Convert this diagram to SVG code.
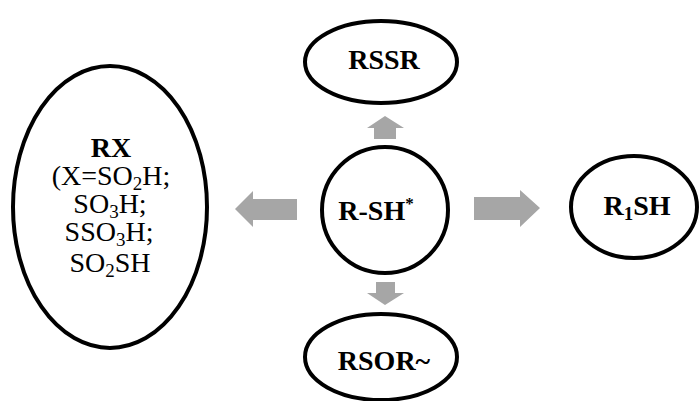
<svg xmlns="http://www.w3.org/2000/svg" width="699" height="401" viewBox="0 0 699 401">
  <style>
    .node { fill: #ffffff; stroke: #000000; stroke-width: 4; }
    .arrow { fill: #a6a6a6; stroke: none; }
    .lbl { font-family: "Liberation Serif", "Times New Roman", serif; fill: #000000; text-anchor: middle; }
    .b { font-weight: bold; font-size: 28px; }
    .r { font-size: 28px; }
    .sub { font-size: 19px; }
  </style>
  <rect width="699" height="401" fill="#ffffff"/>

  <!-- connectors: block arrows radiating from the central thiol -->
  <g id="connectors">
    <polygon class="arrow" points="385,116 404,128 396,128 396,139 374,139 374,128 367,128"/>
    <polygon class="arrow" points="385,305 404,293 395,293 395,282 376,282 376,293 367,293"/>
    <polygon class="arrow" points="235,209 253,191 253,199 297,199 297,220 253,220 253,227"/>
    <polygon class="arrow" points="540,208 520,190 520,197 474,197 474,220 520,220 520,227"/>
  </g>

  <g id="node-rssr">
    <ellipse class="node" cx="381" cy="62" rx="76" ry="41"/>
    <text class="lbl b" x="384" y="69">RSSR</text>
  </g>

  <g id="node-rsh">
    <circle class="node" cx="385" cy="210" r="63"/>
    <text class="lbl b" x="376" y="220">R-SH<tspan font-size="17" dy="-11">*</tspan></text>
  </g>

  <g id="node-rsor">
    <ellipse class="node" cx="381" cy="357" rx="76" ry="43"/>
    <text class="lbl b" x="384" y="370">RSOR~</text>
  </g>

  <g id="node-r1sh">
    <ellipse class="node" cx="634" cy="207" rx="63" ry="51"/>
    <text class="lbl b" x="637" y="215">R<tspan class="sub" dy="5">1</tspan><tspan dy="-5">SH</tspan></text>
  </g>

  <g id="node-rx">
    <ellipse class="node" cx="110" cy="207" rx="97" ry="141"/>
    <text class="lbl b" x="111" y="157">RX</text>
    <text class="lbl r" x="111" y="185">(X=SO<tspan class="sub" dy="5">2</tspan><tspan dy="-5">H;</tspan></text>
    <text class="lbl r" x="110" y="213">SO<tspan class="sub" dy="5">3</tspan><tspan dy="-5">H;</tspan></text>
    <text class="lbl r" x="109" y="241">SSO<tspan class="sub" dy="5">3</tspan><tspan dy="-5">H;</tspan></text>
    <text class="lbl r" x="110" y="272">SO<tspan class="sub" dy="5">2</tspan><tspan dy="-5">SH</tspan></text>
  </g>
</svg>
